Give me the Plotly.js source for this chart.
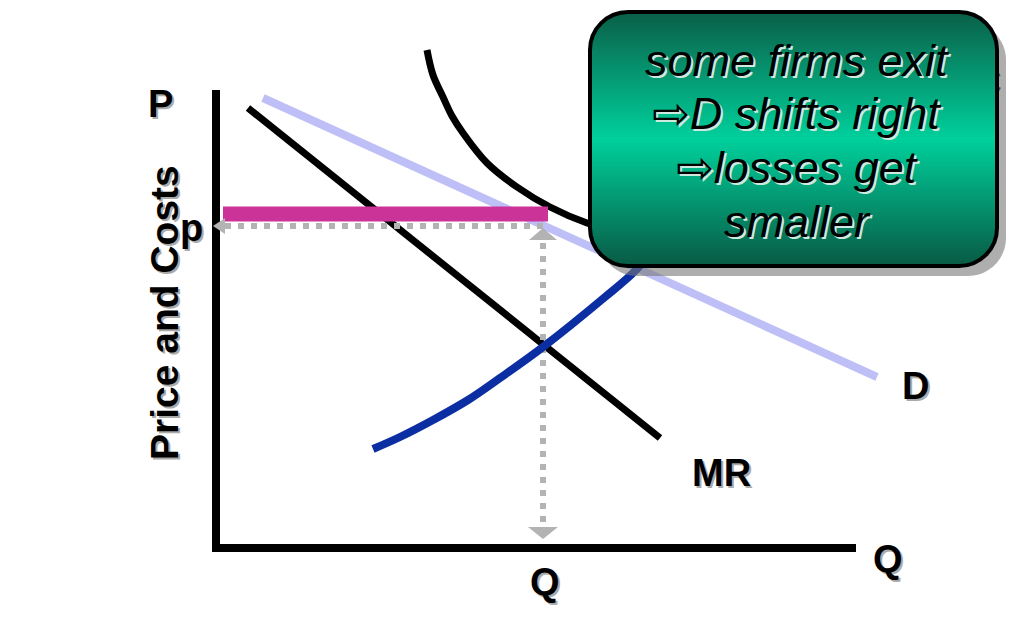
<!DOCTYPE html>
<html>
<head>
<meta charset="utf-8">
<script src="https://cdn.plot.ly/plotly-3.0.1.min.js"></script>
<style>html,body{margin:0;padding:0;background:#fff;}#chart{width:1024px;height:640px;}</style>
</head>
<body>
<div id="chart"></div>
<script>
// ---- data (Quantity on x, Price/Costs on y, arbitrary units) ----
const mrQ = [3.2, 44.4];
const mrP = [44.0, 11.0];
const dQ = [4.7, 66.1];
const dP = [45.0, 17.1];
const atcQ = [21.1, 21.7, 22.7, 23.6, 24.7, 27.1, 30.1, 33.4, 37.1, 40.4, 44.4];
const atcC = [49.8, 47.3, 45.1, 43.2, 41.5, 38.5, 36.1, 34.1, 32.5, 31.6, 30.8];
const mcQ = [15.7, 18.4, 21.7, 25.2, 28.4, 32.7, 38.9, 42.0, 44.4];
const mcC = [9.9, 11.1, 12.8, 14.8, 17.0, 20.1, 25.1, 27.8, 30.8];
const qStar = 32.7;     // profit-maximising quantity Q
const pStar = 32.2;     // price p
const costAtQ = 33.4;   // ATC at Q
const axisMaxQ = 64.0;
const axisMaxP = 45.8;
const boxLines = ["some firms exit", "\u21E8D shifts right", "\u21E8losses get", "smaller"];

// ---- layout helpers (pixel -> paper) ----
const W = 1024, H = 640;
const px = x => x / W;
const py = y => 1 - y / H;
const FONT = "Liberation Sans, Arial, DejaVu Sans, sans-serif";

const traces = [
  // ATC label (mostly hidden behind the callout box)
  {x: [75.0], y: [46.2], mode: 'text', text: ['<b>ATC</b>'], textposition: 'middle center',
   textfont: {family: FONT, size: 36, color: '#000'}, hoverinfo: 'skip', showlegend: false},
  {x: dQ, y: dP, mode: 'lines', line: {color: '#bfbff7', width: 8}, hoverinfo: 'skip', showlegend: false},
  {x: atcQ, y: atcC, mode: 'lines', line: {color: '#000', width: 7, shape: 'spline', smoothing: 1}, hoverinfo: 'skip', showlegend: false},
  {x: mrQ, y: mrP, mode: 'lines', line: {color: '#000', width: 7}, hoverinfo: 'skip', showlegend: false},
  // dotted guides
  {x: [0.9, qStar], y: [pStar, pStar], mode: 'lines', line: {color: '#b3b3b3', width: 6, dash: '6px,7px'}, hoverinfo: 'skip', showlegend: false},
  {x: [qStar, qStar], y: [pStar - 1.7, 2.1], mode: 'lines', line: {color: '#b3b3b3', width: 6, dash: '6px,7px'}, hoverinfo: 'skip', showlegend: false},
  {x: mcQ, y: mcC, mode: 'lines', line: {color: '#0b2fa3', width: 8, shape: 'spline', smoothing: 1}, hoverinfo: 'skip', showlegend: false},
  // cost level (magenta)
  {x: [0.7, qStar + 0.5], y: [costAtQ, costAtQ], mode: 'lines', line: {color: '#cc3399', width: 15}, hoverinfo: 'skip', showlegend: false}
];

const shapes = [];
// axes
shapes.push({type: 'line', xref: 'x', yref: 'y', x0: 0, x1: 0, y0: -0.4, y1: axisMaxP, line: {color: '#000', width: 8}});
shapes.push({type: 'line', xref: 'x', yref: 'y', x0: -0.4, x1: axisMaxQ, y0: 0, y1: 0, line: {color: '#000', width: 8}});
// arrowheads on dotted guides
const g = '#b3b3b3';
shapes.push({type: 'path', xref: 'x', yref: 'y', path: `M ${-0.3} ${pStar} L 0.9 ${pStar + 0.8} L 0.9 ${pStar - 0.8} Z`, fillcolor: g, line: {width: 0}});
shapes.push({type: 'path', xref: 'x', yref: 'y', path: `M ${qStar} ${pStar - 0.2} L ${qStar + 1.4} ${pStar - 1.4} L ${qStar - 1.4} ${pStar - 1.4} Z`, fillcolor: g, line: {width: 0}});
shapes.push({type: 'path', xref: 'x', yref: 'y', path: `M ${qStar} 0.9 L ${qStar + 1.5} 2.1 L ${qStar - 1.5} 2.1 Z`, fillcolor: g, line: {width: 0}});

// callout box (paper coordinates from pixel geometry)
const bx0 = 590, bx1 = 997, by0 = 12, by1 = 266, r = 38;
function roundRect(x0, y0, x1, y1, rad) {
  const k = 0.5523 * rad;
  const X = px, Y = py;
  return `M ${X(x0 + rad)} ${Y(y0)} L ${X(x1 - rad)} ${Y(y0)} ` +
    `C ${X(x1 - rad + k)} ${Y(y0)} ${X(x1)} ${Y(y0 + rad - k)} ${X(x1)} ${Y(y0 + rad)} ` +
    `L ${X(x1)} ${Y(y1 - rad)} C ${X(x1)} ${Y(y1 - rad + k)} ${X(x1 - rad + k)} ${Y(y1)} ${X(x1 - rad)} ${Y(y1)} ` +
    `L ${X(x0 + rad)} ${Y(y1)} C ${X(x0 + rad - k)} ${Y(y1)} ${X(x0)} ${Y(y1 - rad + k)} ${X(x0)} ${Y(y1 - rad)} ` +
    `L ${X(x0)} ${Y(y0 + rad)} C ${X(x0)} ${Y(y0 + rad - k)} ${X(x0 + rad - k)} ${Y(y0)} ${X(x0 + rad)} ${Y(y0)} Z`;
}
// shadow
shapes.push({type: 'path', xref: 'paper', yref: 'paper', layer: 'above', path: roundRect(bx0 + 9, by0 + 10, bx1 + 9, by1 + 10, r),
  fillcolor: 'rgba(120,120,120,0.6)', line: {width: 0}});
// base fill
shapes.push({type: 'path', xref: 'paper', yref: 'paper', layer: 'above', path: roundRect(bx0, by0, bx1, by1, r),
  fillcolor: '#0a5f48', line: {width: 0}});
// gradient bands
const stops = [[0, [10, 95, 72]], [0.5, [0, 208, 156]], [1, [8, 90, 68]]];
function colAt(t) {
  let a = stops[0], b = stops[stops.length - 1];
  for (let i = 0; i < stops.length - 1; i++) if (t >= stops[i][0] && t <= stops[i + 1][0]) { a = stops[i]; b = stops[i + 1]; }
  const f = (t - a[0]) / (b[0] - a[0] || 1);
  const c = a[1].map((v, i) => Math.round(v + (b[1][i] - v) * f));
  return `rgb(${c[0]},${c[1]},${c[2]})`;
}
const band = 3;
for (let y = by0 + 2; y < by1 - 2; y += band) {
  const yc = y + band / 2;
  let inset = 0;
  if (yc < by0 + r) { const d = by0 + r - yc; inset = r - Math.sqrt(Math.max(0, r * r - d * d)); }
  if (yc > by1 - r) { const d = yc - (by1 - r); inset = r - Math.sqrt(Math.max(0, r * r - d * d)); }
  shapes.push({type: 'rect', xref: 'paper', yref: 'paper', layer: 'above',
    x0: px(bx0 + inset + 1), x1: px(bx1 - inset - 1), y0: py(y), y1: py(Math.min(y + band + 0.6, by1 - 2)),
    fillcolor: colAt((yc - by0) / (by1 - by0)), line: {width: 0}});
}
// border
shapes.push({type: 'path', xref: 'paper', yref: 'paper', layer: 'above', path: roundRect(bx0, by0, bx1, by1, r),
  fillcolor: 'rgba(0,0,0,0)', line: {color: '#000', width: 4}});

// ---- annotations ----
const annotations = [];
function label(text, x, y, size, opts = {}) {
  const base = {xref: 'paper', yref: 'paper', x: px(x), y: py(y), xanchor: 'center', yanchor: 'middle',
    showarrow: false, text: text, textangle: opts.angle || 0};
  if (opts.height) base.height = opts.height;
  annotations.push(Object.assign({}, base, {xshift: 2, yshift: -2, font: {family: FONT, size: size, color: opts.shadow || '#aaaaaa'}}));
  annotations.push(Object.assign({}, base, {font: {family: FONT, size: size, color: '#000'}}));
}
label('<b>P</b>', 160, 104, 38);
label('<b>p</b>', 191, 228, 38);
label('<b>Price and Costs</b>', 164, 313, 39, {angle: -90});
label('<b>Q</b>', 545, 582, 38);
label('<b>Q</b>', 888, 559, 38);
label('<b>D</b>', 915, 386, 38);
label('<b>MR</b>', 721, 473, 38);
const lineY = [60, 114, 168, 221];
boxLines.forEach((t, i) => label('<i>' + t + '</i>', 797, lineY[i], 45, {shadow: '#cfe9df', height: 53}));

const layout = {
  width: W, height: H,
  margin: {l: 0, r: 0, t: 0, b: 0},
  paper_bgcolor: '#fff', plot_bgcolor: '#fff',
  xaxis: {range: [-21.6, 80.8], visible: false, fixedrange: true},
  yaxis: {range: [-9.2, 54.8], visible: false, fixedrange: true},
  shapes: shapes,
  annotations: annotations,
  showlegend: false
};
Plotly.newPlot('chart', traces, layout, {staticPlot: true, displayModeBar: false});
</script>
</body>
</html>
